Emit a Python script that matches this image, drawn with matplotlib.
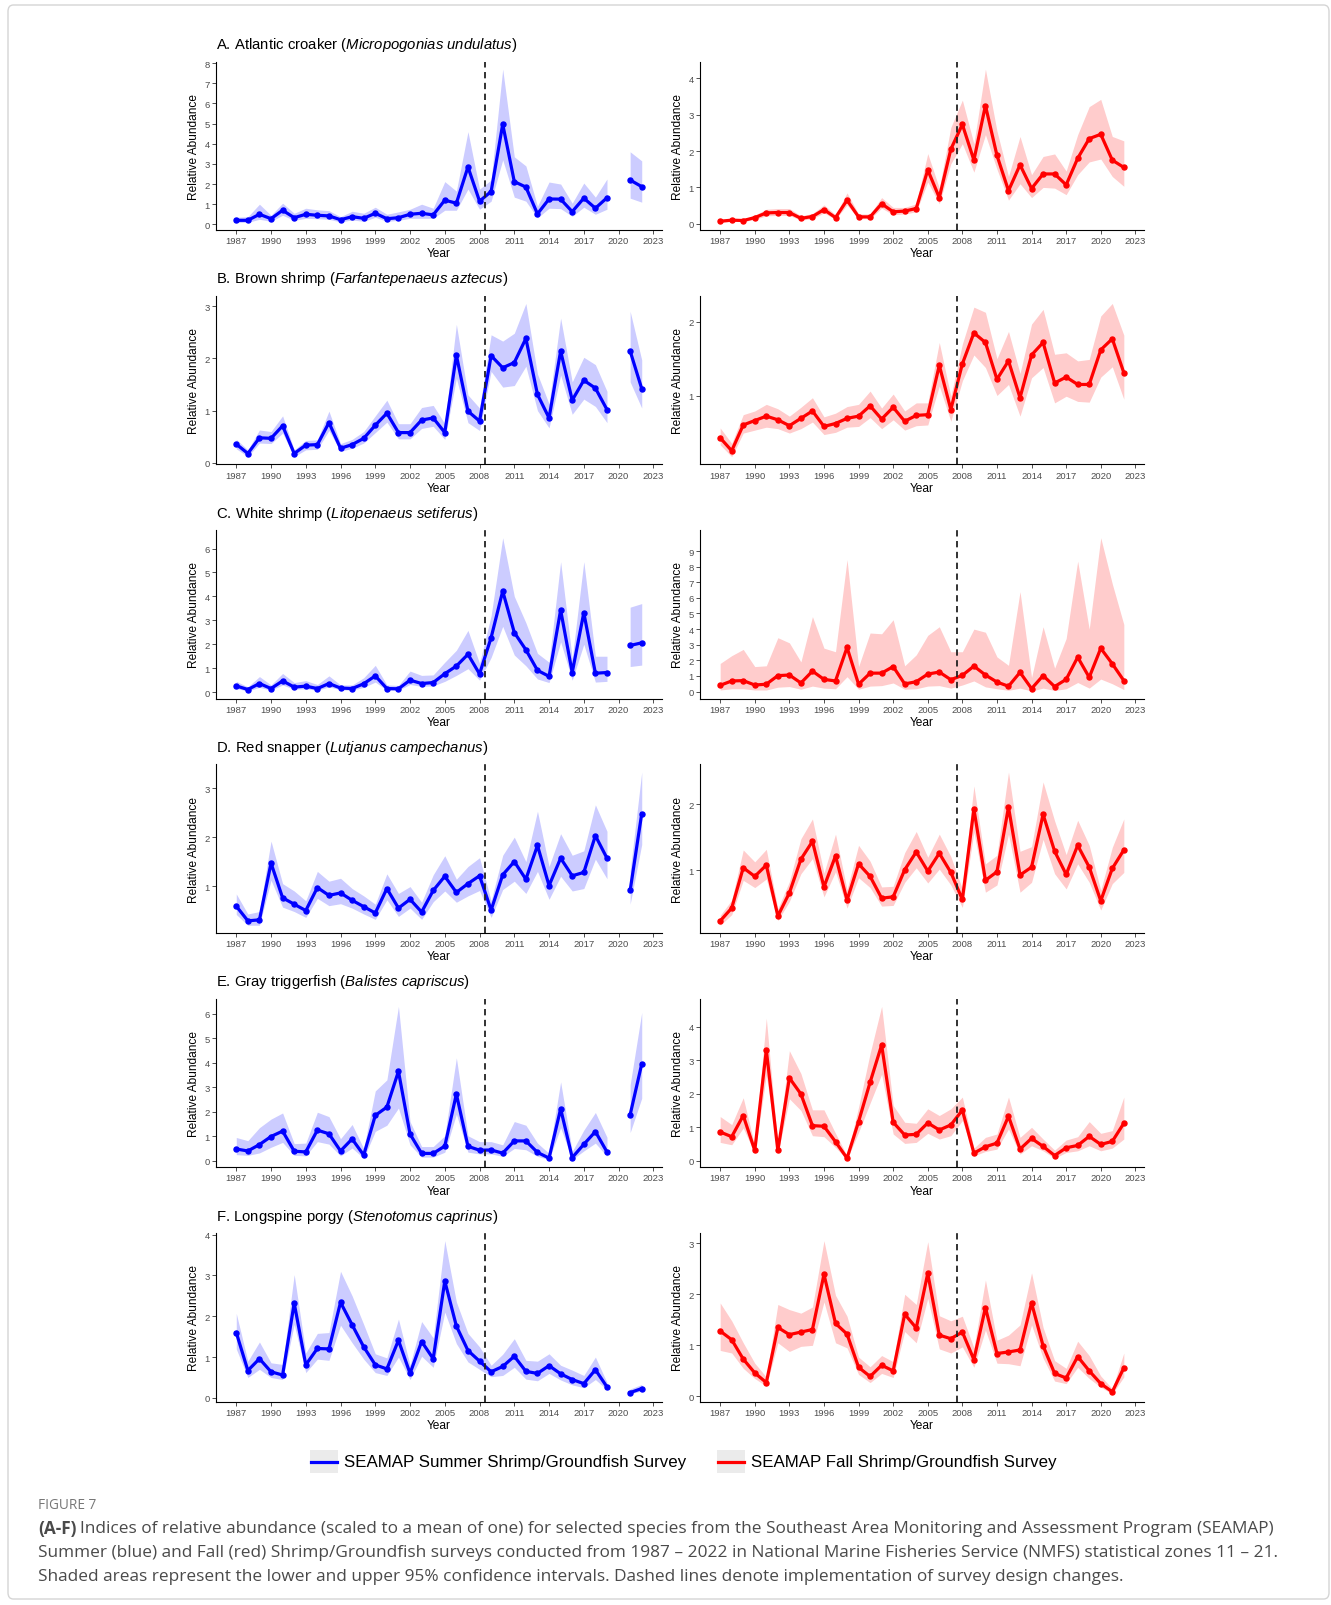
import numpy as np
import matplotlib
matplotlib.use("Agg")
import matplotlib.pyplot as plt
from matplotlib.patches import Rectangle, FancyBboxPatch
from matplotlib.lines import Line2D

plt.rcParams["font.family"] = ["Liberation Sans", "DejaVu Sans"]
plt.rcParams["mathtext.fontset"] = "custom"
plt.rcParams["mathtext.rm"] = "Liberation Sans"
plt.rcParams["mathtext.it"] = "Liberation Sans:italic"

W, H = 1331, 1606

# Survey years (no summer survey in 2020)
SUMMER_YEARS = list(range(1987, 2020)) + [2021, 2022]
FALL_YEARS = list(range(1987, 2023))

TITLES = [
    r"A. Atlantic croaker ($\mathit{Micropogonias\ undulatus}$)",
    r"B. Brown shrimp ($\mathit{Farfantepenaeus\ aztecus}$)",
    r"C. White shrimp ($\mathit{Litopenaeus\ setiferus}$)",
    r"D. Red snapper ($\mathit{Lutjanus\ campechanus}$)",
    r"E. Gray triggerfish ($\mathit{Balistes\ capriscus}$)",
    r"F. Longspine porgy ($\mathit{Stenotomus\ caprinus}$)",
]

# A. Atlantic croaker
A_SUM = [0.2, 0.2, 0.5, 0.28, 0.7, 0.33, 0.5, 0.45, 0.42, 0.23, 0.38, 0.3, 0.55, 0.28, 0.33, 0.5, 0.55, 0.47,
         1.2, 1.05, 2.85, 1.15, 1.63, 4.97, 2.12, 1.85, 0.52, 1.26, 1.25, 0.63, 1.3, 0.8, 1.32, 2.2, 1.87]
A_SUM_LO = [0.1, 0.1, 0.25, 0.15, 0.45, 0.2, 0.3, 0.28, 0.25, 0.12, 0.22, 0.15, 0.35, 0.15, 0.2, 0.3, 0.3, 0.3,
            0.7, 0.7, 1.75, 0.75, 1.15, 3.2, 1.35, 1.15, 0.32, 0.8, 0.78, 0.4, 0.85, 0.5, 0.75, 1.3, 1.1]
A_SUM_HI = [0.35, 0.38, 1.0, 0.45, 1.05, 0.55, 0.8, 0.72, 0.68, 0.38, 0.65, 0.55, 0.85, 0.5, 0.62, 0.75, 1.0, 0.8,
            2.12, 1.65, 4.6, 1.75, 2.2, 7.7, 3.35, 2.9, 0.9, 2.1, 2.0, 1.05, 2.05, 1.35, 2.25, 3.6, 3.15]
A_FALL = [0.07, 0.1, 0.09, 0.17, 0.3, 0.31, 0.31, 0.15, 0.2, 0.39, 0.17, 0.65, 0.19, 0.19, 0.55, 0.33, 0.35, 0.42,
          1.48, 0.72, 2.05, 2.73, 1.75, 3.25, 1.88, 0.91, 1.62, 0.97, 1.37, 1.37, 1.07, 1.8, 2.34, 2.46, 1.75, 1.55]
A_FALL_LO = [0.04, 0.07, 0.06, 0.12, 0.22, 0.23, 0.23, 0.1, 0.14, 0.3, 0.12, 0.52, 0.14, 0.14, 0.43, 0.25, 0.27, 0.33,
             1.15, 0.55, 1.65, 2.2, 1.42, 2.45, 1.5, 0.65, 1.1, 0.72, 1.0, 0.98, 0.8, 1.35, 1.7, 1.78, 1.3, 1.03]
A_FALL_HI = [0.12, 0.14, 0.13, 0.24, 0.4, 0.42, 0.42, 0.22, 0.28, 0.52, 0.25, 0.85, 0.27, 0.27, 0.72, 0.45, 0.45, 0.55,
             1.93, 0.98, 2.65, 3.4, 2.2, 4.25, 2.55, 1.3, 2.4, 1.35, 1.85, 1.92, 1.45, 2.45, 3.22, 3.42, 2.4, 2.28]

# B. Brown shrimp
B_SUM = [0.36, 0.18, 0.48, 0.47, 0.71, 0.18, 0.34, 0.35, 0.77, 0.28, 0.35, 0.47, 0.72, 0.95, 0.58, 0.58, 0.82, 0.86,
         0.58, 2.06, 0.99, 0.8, 2.05, 1.82, 1.92, 2.38, 1.31, 0.86, 2.14, 1.2, 1.58, 1.43, 1.02, 2.14, 1.42]
B_SUM_LO = [0.27, 0.12, 0.38, 0.37, 0.57, 0.12, 0.25, 0.26, 0.62, 0.22, 0.28, 0.38, 0.58, 0.78, 0.46, 0.46, 0.66, 0.7,
            0.45, 1.62, 0.77, 0.62, 1.75, 1.45, 1.48, 1.85, 1.0, 0.67, 1.68, 0.93, 1.22, 1.08, 0.77, 1.55, 1.05]
B_SUM_HI = [0.45, 0.25, 0.63, 0.6, 0.9, 0.25, 0.43, 0.44, 0.99, 0.37, 0.45, 0.6, 0.9, 1.2, 0.75, 0.75, 1.06, 1.1,
            0.75, 2.65, 1.3, 1.05, 2.45, 2.33, 2.48, 3.05, 1.7, 1.13, 2.77, 1.55, 2.02, 1.88, 1.37, 2.9, 1.97]
B_FALL = [0.425, 0.25, 0.6, 0.66, 0.72, 0.67, 0.59, 0.69, 0.79, 0.58, 0.62, 0.69, 0.72, 0.86, 0.68, 0.84, 0.65, 0.73,
          0.74, 1.41, 0.81, 1.43, 1.85, 1.72, 1.22, 1.47, 0.97, 1.55, 1.72, 1.17, 1.25, 1.15, 1.15, 1.62, 1.77, 1.31]
B_FALL_LO = [0.33, 0.17, 0.49, 0.53, 0.57, 0.55, 0.49, 0.55, 0.64, 0.47, 0.5, 0.57, 0.58, 0.7, 0.55, 0.67, 0.53, 0.59,
             0.6, 1.13, 0.65, 1.2, 1.55, 1.38, 1.0, 1.15, 0.72, 1.24, 1.38, 0.9, 0.99, 0.92, 0.91, 1.25, 1.39, 0.95]
B_FALL_HI = [0.56, 0.35, 0.74, 0.79, 0.88, 0.82, 0.72, 0.84, 0.97, 0.71, 0.76, 0.85, 0.88, 1.06, 0.83, 1.02, 0.79, 0.9,
             0.9, 1.72, 0.99, 1.7, 2.2, 2.13, 1.5, 1.87, 1.3, 1.97, 2.17, 1.56, 1.58, 1.47, 1.49, 2.08, 2.25, 1.82]

# C. White shrimp
C_SUM = [0.26, 0.11, 0.36, 0.15, 0.47, 0.21, 0.25, 0.15, 0.36, 0.17, 0.15, 0.35, 0.68, 0.15, 0.14, 0.5, 0.36, 0.4,
         0.77, 1.09, 1.58, 0.76, 2.28, 4.22, 2.49, 1.77, 0.91, 0.66, 3.43, 0.82, 3.32, 0.79, 0.82, 1.95, 2.06]
C_SUM_LO = [0.15, 0.05, 0.2, 0.08, 0.3, 0.12, 0.14, 0.08, 0.22, 0.1, 0.08, 0.2, 0.42, 0.08, 0.08, 0.32, 0.24, 0.26,
            0.45, 0.7, 0.98, 0.5, 1.45, 2.75, 1.55, 1.1, 0.55, 0.4, 2.1, 0.5, 2.0, 0.42, 0.45, 1.07, 1.13]
C_SUM_HI = [0.45, 0.22, 0.65, 0.3, 0.78, 0.4, 0.48, 0.32, 0.68, 0.3, 0.3, 0.6, 1.12, 0.3, 0.28, 0.88, 0.7, 0.72,
            1.25, 1.75, 2.58, 1.2, 3.2, 6.45, 4.0, 2.9, 1.62, 1.25, 5.45, 1.4, 5.45, 1.5, 1.5, 3.55, 3.7]
C_FALL = [0.4, 0.68, 0.7, 0.42, 0.47, 1.02, 1.06, 0.55, 1.31, 0.78, 0.68, 2.83, 0.47, 1.18, 1.18, 1.6, 0.49, 0.63,
          1.12, 1.25, 0.76, 1.04, 1.63, 1.06, 0.61, 0.34, 1.23, 0.19, 1.02, 0.32, 0.78, 2.2, 0.91, 2.77, 1.78, 0.7]
C_FALL_LO = [0.1, 0.18, 0.18, 0.1, 0.1, 0.28, 0.32, 0.15, 0.35, 0.22, 0.18, 0.95, 0.15, 0.35, 0.38, 0.55, 0.15, 0.18,
             0.35, 0.38, 0.22, 0.42, 0.68, 0.3, 0.18, 0.08, 0.22, 0.04, 0.22, 0.07, 0.18, 0.58, 0.22, 0.8, 0.5, 0.13]
C_FALL_HI = [1.8, 2.3, 2.7, 1.6, 1.65, 3.45, 3.12, 1.9, 4.8, 2.78, 2.55, 8.45, 1.6, 3.75, 3.7, 4.6, 1.65, 2.35,
             3.6, 4.15, 2.55, 2.55, 4.0, 3.8, 2.22, 1.68, 6.4, 0.9, 4.15, 1.5, 3.4, 8.35, 4.0, 9.85, 6.9, 4.3]

# D. Red snapper
D_SUM = [0.59, 0.29, 0.31, 1.47, 0.76, 0.63, 0.5, 0.97, 0.81, 0.86, 0.71, 0.58, 0.45, 0.95, 0.55, 0.73, 0.47, 0.91,
         1.2, 0.87, 1.05, 1.21, 0.51, 1.23, 1.5, 1.14, 1.83, 1.01, 1.57, 1.21, 1.28, 2.03, 1.57, 0.91, 2.48]
D_SUM_LO = [0.42, 0.2, 0.2, 1.12, 0.57, 0.48, 0.36, 0.75, 0.6, 0.64, 0.55, 0.43, 0.32, 0.72, 0.38, 0.55, 0.32, 0.68,
            0.9, 0.67, 0.8, 0.91, 0.36, 0.93, 1.1, 0.85, 1.3, 0.73, 1.2, 0.9, 0.95, 1.55, 1.15, 0.63, 1.85]
D_SUM_HI = [0.84, 0.43, 0.48, 1.92, 1.05, 0.9, 0.7, 1.3, 1.1, 1.16, 0.95, 0.8, 0.63, 1.25, 0.85, 0.99, 0.67, 1.23,
            1.62, 1.14, 1.4, 1.58, 0.7, 1.63, 2.0, 1.5, 2.53, 1.4, 2.07, 1.63, 1.72, 2.66, 2.12, 1.3, 3.33]
D_FALL = [0.235, 0.43, 1.04, 0.91, 1.08, 0.31, 0.66, 1.17, 1.44, 0.75, 1.22, 0.55, 1.1, 0.91, 0.58, 0.6, 1.01, 1.28,
          0.99, 1.26, 0.97, 0.56, 1.93, 0.85, 0.98, 1.96, 0.93, 1.05, 1.85, 1.29, 0.94, 1.38, 1.05, 0.54, 1.03, 1.31]
D_FALL_LO = [0.17, 0.33, 0.85, 0.74, 0.87, 0.24, 0.53, 0.95, 1.18, 0.6, 0.98, 0.43, 0.89, 0.74, 0.46, 0.47, 0.82, 1.04,
             0.81, 1.02, 0.78, 0.44, 1.58, 0.67, 0.78, 1.55, 0.67, 0.82, 1.47, 0.95, 0.72, 1.1, 0.82, 0.4, 0.8, 0.97]
D_FALL_HI = [0.32, 0.55, 1.31, 1.13, 1.32, 0.42, 0.83, 1.48, 1.78, 0.96, 1.55, 0.71, 1.38, 1.14, 0.75, 0.76, 1.27, 1.59,
             1.2, 1.55, 1.21, 0.72, 2.28, 1.1, 1.23, 2.49, 1.29, 1.36, 2.34, 1.75, 1.24, 1.76, 1.38, 0.7, 1.35, 1.78]

# E. Gray triggerfish
E_SUM = [0.48, 0.4, 0.66, 0.99, 1.21, 0.39, 0.36, 1.25, 1.1, 0.4, 0.89, 0.23, 1.85, 2.19, 3.65, 1.09, 0.3, 0.3,
         0.6, 2.72, 0.59, 0.43, 0.44, 0.31, 0.81, 0.81, 0.34, 0.11, 2.12, 0.13, 0.67, 1.19, 0.36, 1.88, 3.95]
E_SUM_LO = [0.25, 0.22, 0.32, 0.55, 0.75, 0.22, 0.2, 0.78, 0.68, 0.2, 0.52, 0.1, 1.2, 1.45, 2.15, 0.65, 0.15, 0.15,
            0.35, 1.9, 0.35, 0.28, 0.28, 0.18, 0.5, 0.45, 0.18, 0.05, 1.35, 0.05, 0.4, 0.72, 0.18, 1.15, 2.55]
E_SUM_HI = [0.95, 0.82, 1.35, 1.7, 1.95, 0.7, 0.72, 1.98, 1.8, 0.9, 1.48, 0.5, 2.85, 3.3, 6.3, 1.6, 0.58, 0.58,
            1.02, 4.2, 1.02, 0.78, 0.78, 0.65, 1.6, 1.45, 0.72, 0.3, 3.22, 0.38, 1.25, 1.97, 0.96, 3.1, 6.05]
E_FALL = [0.86, 0.72, 1.35, 0.31, 3.3, 0.31, 2.47, 1.99, 1.05, 1.03, 0.57, 0.08, 1.17, 2.34, 3.45, 1.15, 0.77, 0.79,
          1.13, 0.92, 1.07, 1.51, 0.23, 0.42, 0.53, 1.33, 0.35, 0.67, 0.43, 0.16, 0.39, 0.46, 0.73, 0.49, 0.58, 1.12]
E_FALL_LO = [0.55, 0.48, 0.98, 0.22, 2.55, 0.22, 1.85, 1.5, 0.75, 0.72, 0.4, 0.04, 0.85, 1.72, 2.58, 0.8, 0.52, 0.55,
             0.82, 0.65, 0.75, 1.2, 0.15, 0.28, 0.35, 0.95, 0.2, 0.45, 0.3, 0.08, 0.25, 0.3, 0.45, 0.3, 0.38, 0.65]
E_FALL_HI = [1.32, 1.08, 1.88, 0.45, 4.25, 0.45, 3.28, 2.6, 1.52, 1.52, 0.82, 0.15, 1.6, 3.2, 4.6, 1.65, 1.15, 1.12,
             1.55, 1.35, 1.55, 1.9, 0.38, 0.7, 0.8, 1.9, 0.7, 1.0, 0.65, 0.32, 0.62, 0.72, 1.17, 0.82, 0.9, 1.9]

# F. Longspine porgy
F_SUM = [1.6, 0.67, 0.96, 0.64, 0.56, 2.32, 0.81, 1.21, 1.2, 2.34, 1.79, 1.25, 0.81, 0.71, 1.41, 0.6, 1.38, 0.96,
         2.86, 1.76, 1.16, 0.9, 0.64, 0.77, 1.02, 0.65, 0.6, 0.79, 0.59, 0.45, 0.35, 0.69, 0.27, 0.13, 0.23]
F_SUM_LO = [1.2, 0.5, 0.7, 0.5, 0.45, 1.8, 0.62, 0.95, 0.92, 1.78, 1.35, 0.95, 0.62, 0.55, 1.0, 0.45, 1.02, 0.75,
            2.1, 1.33, 0.88, 0.7, 0.52, 0.55, 0.75, 0.46, 0.42, 0.6, 0.44, 0.32, 0.25, 0.45, 0.2, 0.1, 0.17]
F_SUM_HI = [2.07, 0.9, 1.37, 0.86, 0.82, 3.02, 1.1, 1.58, 1.6, 3.1, 2.5, 1.8, 1.08, 0.98, 1.93, 0.8, 1.87, 1.47,
            3.85, 2.35, 1.58, 1.25, 0.8, 1.07, 1.45, 0.92, 0.9, 1.08, 0.8, 0.68, 0.55, 1.0, 0.38, 0.22, 0.33]
F_FALL = [1.28, 1.11, 0.73, 0.46, 0.27, 1.35, 1.21, 1.26, 1.31, 2.39, 1.43, 1.22, 0.57, 0.39, 0.61, 0.5, 1.61, 1.34,
          2.41, 1.2, 1.13, 1.26, 0.72, 1.74, 0.84, 0.87, 0.91, 1.83, 0.99, 0.45, 0.36, 0.78, 0.5, 0.25, 0.09, 0.56]
F_FALL_LO = [0.9, 0.85, 0.55, 0.35, 0.2, 1.05, 0.88, 0.98, 1.0, 1.85, 1.05, 0.95, 0.43, 0.27, 0.45, 0.37, 1.27, 1.05,
             1.92, 0.93, 0.85, 0.97, 0.57, 1.3, 0.65, 0.64, 0.6, 1.4, 0.75, 0.3, 0.25, 0.57, 0.35, 0.18, 0.05, 0.38]
F_FALL_HI = [1.83, 1.48, 1.05, 0.65, 0.38, 1.8, 1.7, 1.63, 1.75, 3.05, 1.98, 1.57, 0.77, 0.58, 0.8, 0.68, 2.0, 1.8,
             3.03, 1.58, 1.48, 1.57, 0.95, 2.28, 1.1, 1.2, 1.4, 2.42, 1.35, 0.7, 0.55, 1.08, 0.8, 0.4, 0.15, 0.85]

SUMMER = [(A_SUM, A_SUM_LO, A_SUM_HI), (B_SUM, B_SUM_LO, B_SUM_HI), (C_SUM, C_SUM_LO, C_SUM_HI),
          (D_SUM, D_SUM_LO, D_SUM_HI), (E_SUM, E_SUM_LO, E_SUM_HI), (F_SUM, F_SUM_LO, F_SUM_HI)]
FALL = [(A_FALL, A_FALL_LO, A_FALL_HI), (B_FALL, B_FALL_LO, B_FALL_HI), (C_FALL, C_FALL_LO, C_FALL_HI),
        (D_FALL, D_FALL_LO, D_FALL_HI), (E_FALL, E_FALL_LO, E_FALL_HI), (F_FALL, F_FALL_LO, F_FALL_HI)]

SUMMER_YTICKS = [range(0, 9), range(0, 4), range(0, 7), range(1, 4), range(0, 7), range(0, 5)]
FALL_YTICKS = [range(0, 5), range(1, 3), range(0, 10), range(1, 3), range(0, 5), range(0, 4)]
XTICKS = list(range(1987, 2024, 3))

# year the survey design changed (dashed line sits between surveys)
SUMMER_CHANGE = 2008.5
FALL_CHANGE = 2007.5

BLUE, BLUE_FILL = "#0000ff", "#ccccff"
RED, RED_FILL = "#ff0000", "#ffcccc"


def px_axes(fig, left, top, width, height):
    return fig.add_axes([left / W, 1 - (top + height) / H, width / W, height / H])


def draw_panel(ax, years, series, yticks, change, color, fill):
    mid, lo, hi = (np.asarray(s, dtype=float) for s in series)
    years = np.asarray(years)
    # split where a survey year is missing so the line and band break
    breaks = np.where(np.diff(years) > 1)[0] + 1
    for idx in np.split(np.arange(len(years)), breaks):
        ax.fill_between(years[idx], lo[idx], hi[idx], color=fill, lw=0, zorder=1)
        ax.plot(years[idx], mid[idx], color=color, lw=2.3, marker="o", ms=3.6,
                solid_joinstyle="round", zorder=3)

    pad = 0.05 * (hi.max() - lo.min())
    ax.set_ylim(lo.min() - pad, hi.max() + pad)
    ax.set_xlim(1985.25, 2023.75)
    ax.axvline(change, color="#222222", lw=1.3, ls=(0, (3.5, 2.5)), zorder=4)

    ax.set_xticks(XTICKS)
    ax.set_yticks(list(yticks))
    ax.tick_params(length=3, width=0.6, color="#333333", labelsize=6.8,
                   labelcolor="#4d4d4d", pad=1.5)
    for side in ("top", "right"):
        ax.spines[side].set_visible(False)
    for side in ("left", "bottom"):
        ax.spines[side].set_linewidth(0.8)
        ax.spines[side].set_color("black")
    ax.set_xlabel("Year", fontsize=8.6, labelpad=1.5)
    ax.set_ylabel("Relative Abundance", fontsize=8.6, labelpad=3)


fig = plt.figure(figsize=(W / 100, H / 100), dpi=100)

# light frame around the whole figure
fig.add_artist(FancyBboxPatch((8 / W, 6 / H), 1321 / W, 1594 / H, boxstyle="round,pad=0,rounding_size=0.004",
                              transform=fig.transFigure, fc="none", ec="#d5d5d5", lw=1.0))

ROW_TOP, ROW_PITCH, AX_H = 62.5, 234.3, 168.5
for i in range(6):
    top = ROW_TOP + i * ROW_PITCH
    ax_s = px_axes(fig, 216, top, 446, AX_H)
    draw_panel(ax_s, SUMMER_YEARS, SUMMER[i], SUMMER_YTICKS[i], SUMMER_CHANGE, BLUE, BLUE_FILL)
    ax_f = px_axes(fig, 700, top, 444, AX_H)
    draw_panel(ax_f, FALL_YEARS, FALL[i], FALL_YTICKS[i], FALL_CHANGE, RED, RED_FILL)
    fig.text(216 / W, 1 - (top - 17.5) / H, TITLES[i], fontsize=10.7, va="center", ha="left", color="black")

# legend
for x0, color, label in [(310, BLUE, "SEAMAP Summer Shrimp/Groundfish Survey"),
                         (717, RED, "SEAMAP Fall Shrimp/Groundfish Survey")]:
    fig.add_artist(Rectangle((x0 / W, 1 - 1474 / H), 28 / W, 23 / H, transform=fig.transFigure,
                             fc="#ebebeb", ec="none"))
    fig.add_artist(Line2D([(x0 + 1) / W, (x0 + 27) / W], [1 - 1462.5 / H] * 2, transform=fig.transFigure,
                          color=color, lw=2.3))
    fig.text((x0 + 34) / W, 1 - 1462.5 / H, label, fontsize=12.2, va="center", ha="left")

# caption
CAP_FONT = ["Open Sans", "DejaVu Sans"]
CAP_COLOR = "#4a4a4a"
CAP_SIZE = 12.45
CAP_Y = [1529, 1553, 1577]
fig.text(38 / W, 1 - 1506 / H, "FIGURE 7", fontsize=9.8, color="#777777", va="center",
         family=CAP_FONT)
renderer = fig.canvas.get_renderer()
head = fig.text(38 / W, 1 - CAP_Y[0] / H, "(A-F)", fontsize=CAP_SIZE, fontweight="bold", color=CAP_COLOR,
                va="center", family=CAP_FONT)
hx = head.get_window_extent(renderer).x1
fig.text((hx + 4) / W, 1 - CAP_Y[0] / H,
         "Indices of relative abundance (scaled to a mean of one) for selected species from the Southeast "
         "Area Monitoring and Assessment Program (SEAMAP)",
         fontsize=CAP_SIZE, color=CAP_COLOR, va="center", family=CAP_FONT)
fig.text(38 / W, 1 - CAP_Y[1] / H,
         "Summer (blue) and Fall (red) Shrimp/Groundfish surveys conducted from 1987 \u2013 2022 in National "
         "Marine Fisheries Service (NMFS) statistical zones 11 \u2013 21.",
         fontsize=CAP_SIZE, color=CAP_COLOR, va="center", family=CAP_FONT)
fig.text(38 / W, 1 - CAP_Y[2] / H,
         "Shaded areas represent the lower and upper 95% confidence intervals. Dashed lines denote "
         "implementation of survey design changes.",
         fontsize=CAP_SIZE, color=CAP_COLOR, va="center", family=CAP_FONT)

fig.savefig("out.png", dpi=100)
